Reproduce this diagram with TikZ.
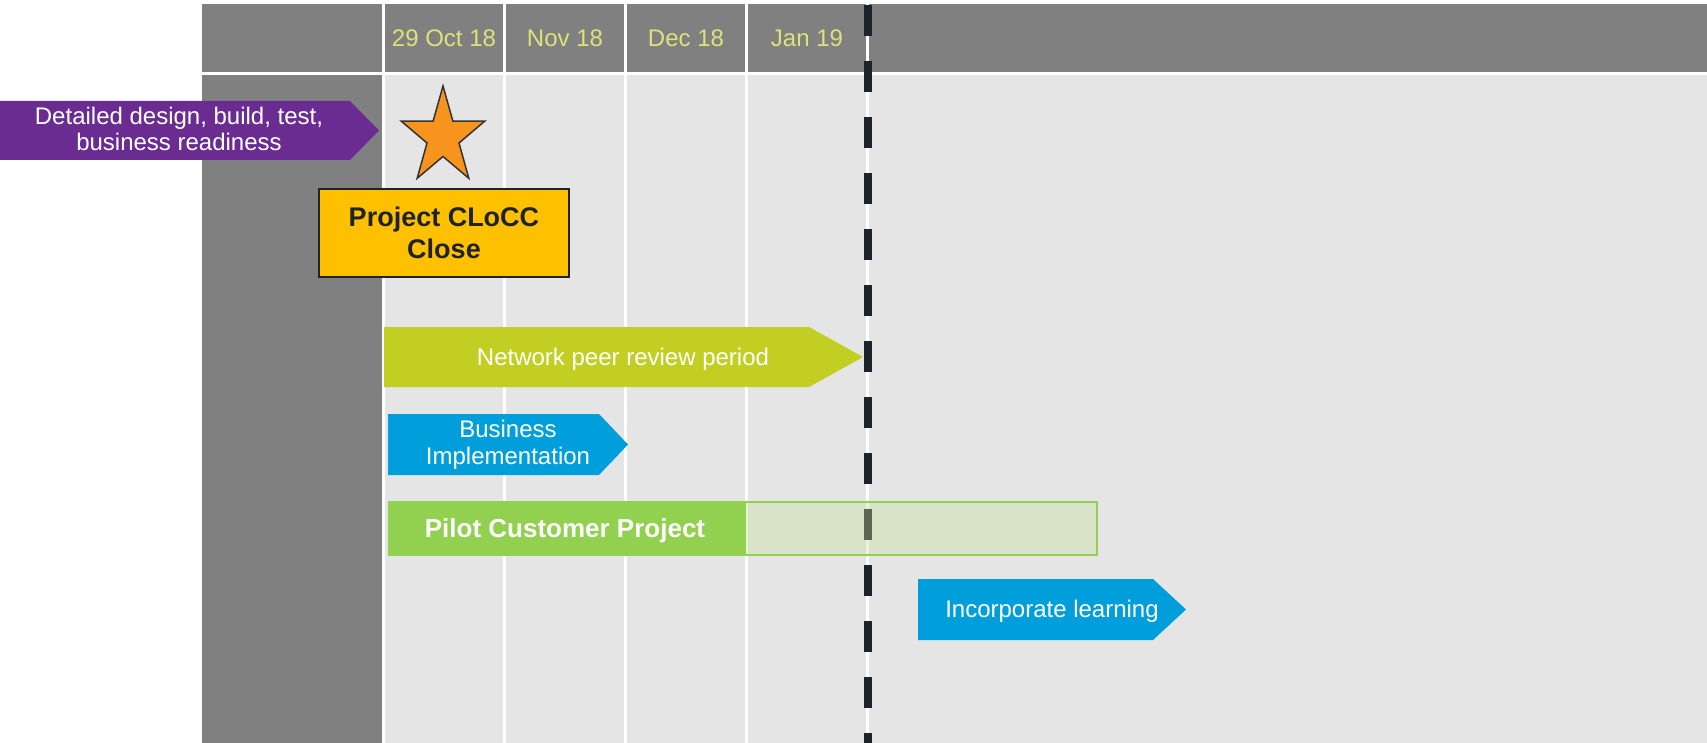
\documentclass[tikz,border=0pt]{standalone}
\usepackage{fontspec}
\setmainfont{Liberation Sans}
\definecolor{hdr}{HTML}{808080}
\definecolor{bodyc}{HTML}{E5E5E5}
\definecolor{hdrtxt}{HTML}{DDE27A}
\definecolor{purp}{HTML}{6A2C91}
\definecolor{starc}{HTML}{F7941D}
\definecolor{yel}{HTML}{FFC000}
\definecolor{darkc}{HTML}{1E222A}
\definecolor{olive}{HTML}{C2CF22}
\definecolor{blu}{HTML}{009FDB}
\definecolor{grn}{HTML}{92D050}
\definecolor{lgrn}{HTML}{C2E294}
\begin{document}
\begin{tikzpicture}[x=1pt,y=-1pt,
  hdrlabel/.style={text=hdrtxt,inner sep=0pt,anchor=base,font=\fontsize{24pt}{26pt}\selectfont},
  wlabel/.style={text=white,inner sep=0pt,align=center,font=\fontsize{24pt}{26pt}\selectfont},
  blabel/.style={text=white,inner sep=0pt,anchor=base,font=\bfseries\fontsize{26pt}{30pt}\selectfont}
]
\useasboundingbox (0,0) rectangle (1707,743);
\fill[white] (0,0) rectangle (1707,743);
% header cells
\foreach \a/\b in {202/382,385/503,506/624,627/745,748/866,869/1707}
  \fill[hdr] (\a,4) rectangle (\b,72);
% body cells
\fill[hdr] (202,75) rectangle (382,743);
\foreach \a/\b in {385/503,506/624,627/745,748/866,869/1707}
  \fill[bodyc] (\a,75) rectangle (\b,743);
% header labels
\node[hdrlabel] (h1) at (444,47) {29 Oct 18};
\node[hdrlabel] (h2) at (565,47) {Nov 18};
\node[hdrlabel] (h3) at (686,47) {Dec 18};
\node[hdrlabel] (h4) at (807,47) {Jan 19};
% today line
\draw[darkc,line width=8pt,dash pattern=on 31pt off 25pt] (868,5) -- (868,743);
% purple arrow
\fill[purp] (0,101) -- (350,101) -- (379,130.5) -- (350,160) -- (0,160) -- cycle;
\node[wlabel,font=\fontsize{24pt}{26pt}\selectfont] (design) at (179,129) {Detailed design, build, test,\\business readiness};
% star
\draw[fill=starc,draw=black!80,line width=1.5pt,line join=miter]
  (443,86) -- (433.1,121.2) -- (401.3,121.2) -- (427.0,143.0) -- (417.2,178.3)
  -- (443,156.5) -- (468.8,178.3) -- (459.0,143.0) -- (484.7,121.2) -- (452.9,121.2) -- cycle;
% close box
\node[draw=darkc,line width=2pt,fill=yel,minimum width=250pt,minimum height=88pt,inner sep=0pt,
  align=center,text=darkc,font=\bfseries\fontsize{27pt}{32pt}\selectfont] (close) at (444,233) {Project CLoCC\\Close};
% network peer review
\fill[olive] (384,327) -- (809,327) -- (863,357) -- (809,387) -- (384,387) -- cycle;
\node[hdrlabel,text=white] (review) at (623,365) {Network peer review period};
% business implementation
\fill[blu] (388,414) -- (599,414) -- (628,444.5) -- (599,475) -- (388,475) -- cycle;
\node[wlabel,font=\fontsize{24pt}{27pt}\selectfont] (impl) at (508,445) {Business\\Implementation};
% pilot
\fill[grn] (388,501) rectangle (745,556);
\draw[grn,line width=1.5pt,fill=lgrn,fill opacity=0.37] (745,502) rectangle (1097,555);
\node[blabel] (pilot) at (565,537) {Pilot Customer Project};
% incorporate learning
\fill[blu] (918,579) -- (1153,579) -- (1186,609.5) -- (1153,640) -- (918,640) -- cycle;
\node[hdrlabel,text=white] (learn) at (1052,617) {Incorporate learning};
\end{tikzpicture}
\end{document}
